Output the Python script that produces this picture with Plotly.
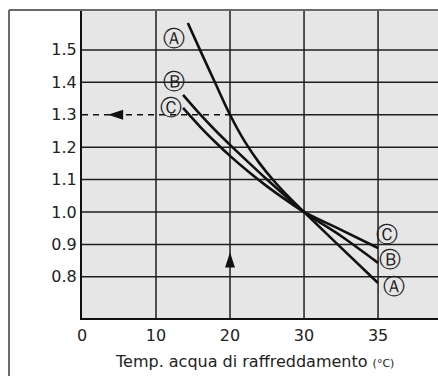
import plotly.graph_objects as go

# ---- data ----
temp_A = [14.3, 16, 18, 20, 22, 24, 26, 28, 30, 32.5, 35]
factor_A = [1.583, 1.497, 1.398, 1.30, 1.217, 1.150, 1.094, 1.045, 1.0, 0.89, 0.781]

temp_B = [13.65, 16, 18, 20, 22.5, 25, 27.5, 30, 32.5, 35]
factor_B = [1.361, 1.300, 1.252, 1.207, 1.153, 1.100, 1.049, 1.0, 0.926, 0.843]

temp_C = [13.65, 16, 18, 20, 22.5, 25, 27.5, 30, 32.5, 35]
factor_C = [1.321, 1.262, 1.216, 1.173, 1.124, 1.079, 1.038, 1.0, 0.945, 0.889]

x_ticks = [0, 10, 20, 30, 35]
y_ticks = [0.8, 0.9, 1.0, 1.1, 1.2, 1.3, 1.4, 1.5]

example_temp = 20
example_factor = 1.3

x_title = "Temp. acqua di raffreddamento"
x_unit = "(°C)"


# the printed temperature scale is stretched above 30 °C (30→35 spans one grid cell)
def axis_pos(t):
    return t if t <= 30 else 30 + (t - 30) * 2


X_RANGE = [0, 48.1]
Y_RANGE = [0.673, 1.623]
FONT = "DejaVu Sans"
INK = "#111111"
GRID = "#1e1e1e"

fig = go.Figure()

for temps, vals in [(temp_A, factor_A), (temp_B, factor_B), (temp_C, factor_C)]:
    fig.add_trace(go.Scatter(
        x=[axis_pos(t) for t in temps], y=vals, mode="lines",
        line=dict(color=INK, width=2.6, shape="spline", smoothing=1.0),
        showlegend=False, hoverinfo="skip"))

# example reading: dashed line from the curve to the y axis
fig.add_trace(go.Scatter(
    x=[0, axis_pos(example_temp)], y=[example_factor, example_factor], mode="lines",
    line=dict(color=INK, width=1.6, dash="6px,5px"), showlegend=False, hoverinfo="skip"))
# arrow heads
fig.add_trace(go.Scatter(
    x=[3.5, axis_pos(example_temp)], y=[example_factor, 0.876], mode="markers",
    marker=dict(symbol="arrow", size=16, angle=[-90, 0], color=INK, line=dict(width=0)),
    showlegend=False, hoverinfo="skip"))

shapes = []
# vertical grid lines
for t in x_ticks[1:]:
    shapes.append(dict(type="line", xref="x", yref="paper", x0=axis_pos(t), x1=axis_pos(t),
                       y0=0, y1=1, line=dict(color=GRID, width=1.5), layer="below"))
# horizontal grid lines
for v in y_ticks:
    x0 = axis_pos(example_temp) if abs(v - example_factor) < 1e-9 else X_RANGE[0]
    shapes.append(dict(type="line", xref="x", yref="y", x0=x0, x1=X_RANGE[1],
                       y0=v, y1=v, line=dict(color=GRID, width=1.5), layer="below"))
# outer frame
shapes.append(dict(type="line", xref="paper", yref="paper", x0=-0.205, x1=1.05,
                   y0=1.0, y1=1.0, line=dict(color="#6a6a6a", width=2), layer="above"))
shapes.append(dict(type="line", xref="paper", yref="paper", x0=-0.205, x1=-0.205,
                   y0=-0.3, y1=1.0, line=dict(color="#6a6a6a", width=2), layer="above"))

annotations = []
label_pos = [
    ("Ⓐ", 12.43, 1.534), ("Ⓑ", 12.43, 1.401), ("Ⓒ", 12.03, 1.321),
    ("Ⓒ", 41.2, 0.932), ("Ⓑ", 41.6, 0.852), ("Ⓐ", 42.2, 0.769),
]
for txt, x, y in label_pos:
    annotations.append(dict(text=txt, x=x, y=y, xref="x", yref="y", showarrow=False,
                            font=dict(family=FONT, size=22, color="#222222"),
                            xanchor="center", yanchor="middle"))
annotations.append(dict(
    text=x_title + " <span style='font-size:11px'>" + x_unit + "</span>",
    xref="paper", yref="paper", x=(254.5 - 82) / 356, y=(318 - 361) / 308,
    showarrow=False, xanchor="center", yanchor="middle",
    font=dict(family=FONT, size=16, color="#222222")))

fig.update_layout(
    width=438, height=376,
    margin=dict(l=82, r=0, t=10, b=58),
    paper_bgcolor="white", plot_bgcolor="#e6e6e6",
    shapes=shapes, annotations=annotations,
    font=dict(family=FONT, size=16, color="#222222"),
)
fig.update_xaxes(range=X_RANGE, tickvals=[axis_pos(t) for t in x_ticks],
                 ticktext=[str(t) for t in x_ticks], showgrid=False, zeroline=False,
                 showline=True, linecolor=INK, linewidth=2, ticks="outside",
                 ticklen=2, tickcolor="rgba(0,0,0,0)",
                 tickfont=dict(family=FONT, size=16, color="#222222"))
fig.update_yaxes(range=Y_RANGE, tickvals=y_ticks, ticktext=[f"{v:.1f}" for v in y_ticks],
                 showgrid=False, zeroline=False, showline=True, linecolor=INK, linewidth=2,
                 ticks="", tickfont=dict(family=FONT, size=16, color="#222222"))

fig.write_html("out.html", config={"displayModeBar": False},
               post_script="document.body.style.margin='0px';document.body.style.overflow='hidden';")
